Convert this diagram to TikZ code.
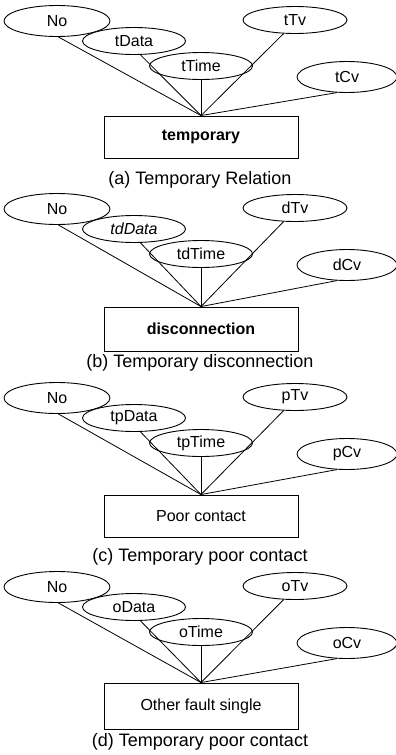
\documentclass[tikz,border=0pt]{standalone}
\usepackage{fontspec}
\setmainfont{Liberation Sans}
\usetikzlibrary{shapes.geometric}

\tikzset{
	attr/.style={ellipse, draw, fill=white, line width=0.9pt, inner sep=0pt,
		minimum width=103pt, minimum height=27pt, font=\fontsize{16}{18}\selectfont},
	entity/.style={rectangle, draw, line width=0.9pt, minimum width=194pt,
		minimum height=42pt, font=\fontsize{16}{18}\selectfont},
	link/.style={line width=0.8pt},
	caption/.style={font=\fontsize{18}{20}\selectfont}
}

\begin{document}
\begin{tikzpicture}[x=1pt, y=-1pt]
	
	\useasboundingbox (0,0) rectangle (396,755);
	
	% (a)
	\node[attr, minimum width=106pt, minimum height=31pt] (noA) at (57,21) {No};
	\node[attr] (dataA) at (134,41) {tData};
	\node[attr] (timeA) at (201,66) {tTime};
	\node[attr, minimum width=104pt] (tvA) at (295,20) {tTv};
	\node[attr, minimum width=100pt, minimum height=31pt] (cvA) at (347,77) {tCv};
	\node[entity, font=\fontsize{16}{18}\selectfont\bfseries] (boxA) at (201,137) {temporary};
	\node[caption] (capA) at (200,180) {(a) Temporary Relation};
	\draw[link] (noA.-85) -- (boxA.north);
	\draw[link] (dataA.-65) -- (boxA.north);
	\draw[link] (timeA.south) -- (boxA.north);
	\draw[link] (tvA.-130) -- (boxA.north);
	\draw[link] (cvA.-123) -- (boxA.north);
	
	% (b)
	\node[attr, minimum width=106pt, minimum height=31pt] (noB) at (57,209) {No};
	\node[attr] (dataB) at (134,229) {\itshape tdData};
	\node[attr] (timeB) at (201,254) {tdTime};
	\node[attr, minimum width=104pt] (tvB) at (295,208) {dTv};
	\node[attr, minimum width=100pt, minimum height=31pt] (cvB) at (347,265) {dCv};
	\node[entity, minimum height=44pt, font=\fontsize{16}{18}\selectfont\bfseries] (boxB) at (201,329) {disconnection};
	\node[caption] (capB) at (200,363) {(b) Temporary disconnection};
	\draw[link] (noB.-85) -- (boxB.north);
	\draw[link] (dataB.-65) -- (boxB.north);
	\draw[link] (timeB.south) -- (boxB.north);
	\draw[link] (tvB.-130) -- (boxB.north);
	\draw[link] (cvB.-123) -- (boxB.north);
	
	% (c)
	\node[attr, minimum width=106pt, minimum height=31pt] (noC) at (57,398) {No};
	\node[attr] (dataC) at (134,418) {tpData};
	\node[attr] (timeC) at (201,443) {tpTime};
	\node[attr, minimum width=104pt] (tvC) at (295,397) {pTv};
	\node[attr, minimum width=100pt, minimum height=31pt] (cvC) at (347,454) {pCv};
	\node[entity] (boxC) at (201,516) {Poor contact};
	\node[caption] (capC) at (200,557) {(c) Temporary poor contact};
	\draw[link] (noC.-85) -- (boxC.north);
	\draw[link] (dataC.-65) -- (boxC.north);
	\draw[link] (timeC.south) -- (boxC.north);
	\draw[link] (tvC.-130) -- (boxC.north);
	\draw[link] (cvC.-123) -- (boxC.north);
	
	% (d)
	\node[attr, minimum width=106pt, minimum height=31pt] (noD) at (57,587) {No};
	\node[attr] (dataD) at (134,607) {oData};
	\node[attr] (timeD) at (201,632) {oTime};
	\node[attr, minimum width=104pt] (tvD) at (295,586) {oTv};
	\node[attr, minimum width=100pt, minimum height=31pt] (cvD) at (347,643) {oCv};
	\node[entity, minimum height=46pt] (boxD) at (201,706) {Other fault single};
	\node[caption] (capD) at (200,742) {(d) Temporary poor contact};
	\draw[link] (noD.-85) -- (boxD.north);
	\draw[link] (dataD.-65) -- (boxD.north);
	\draw[link] (timeD.south) -- (boxD.north);
	\draw[link] (tvD.-130) -- (boxD.north);
	\draw[link] (cvD.-123) -- (boxD.north);
	
\end{tikzpicture}
\end{document}
